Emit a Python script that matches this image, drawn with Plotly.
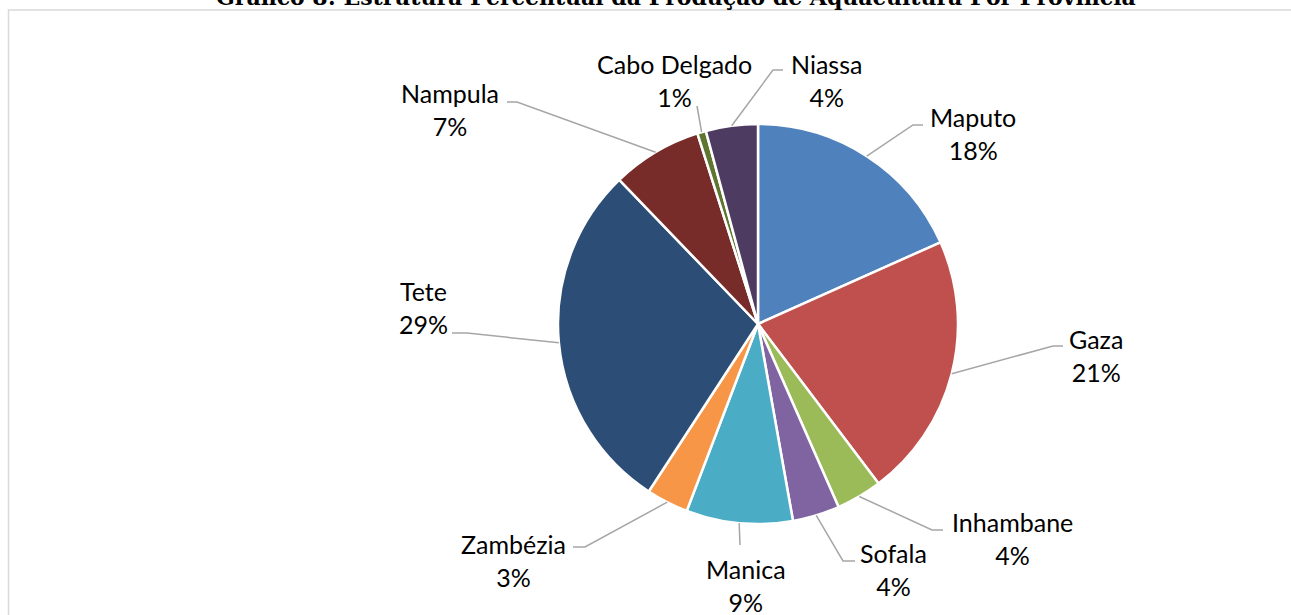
"""Gráfico 8: estrutura percentual da produção de aquacultura por província (pizza)."""

import math

import plotly.graph_objects as go

W, H = 1291, 615

provincias = ["Maputo", "Gaza", "Inhambane", "Sofala", "Manica",
              "Zambézia", "Tete", "Nampula", "Cabo Delgado", "Niassa"]
valores = [18.3, 21.4, 3.7, 3.8, 8.6, 3.4, 28.6, 7.3, 0.7, 4.2]
cores = ["#4F81BD", "#C0504D", "#9BBB59", "#8064A2", "#4BACC6",
         "#F79646", "#2C4D75", "#772C2A", "#5F7530", "#4D3B62"]

TITULO = "Gráfico 8: Estrutura Percentual da Produção de Aquacultura Por Província"

# geometria da pizza em píxeis
CX, CY, R = 758, 324, 200

# posição dos rótulos (centro do texto) e linhas de chamada: cotovelo e ponta
rotulos = {
    "Maputo":       dict(c=(973, 133), path=[(913, 125), (923, 125)]),
    "Gaza":         dict(c=(1096, 355), path=[(1053, 346), (1063, 346)]),
    "Inhambane":    dict(c=(1012, 538), path=[(932, 530), (943, 530)]),
    "Sofala":       dict(c=(893, 569), path=[(843, 561), (855, 561)]),
    "Manica":       dict(c=(746, 585), path=[(740, 545)]),
    "Zambézia":     dict(c=(513, 560), path=[(585, 547), (573, 547)]),
    "Tete":         dict(c=(423, 307), path=[(467, 333), (452, 333)]),
    "Nampula":      dict(c=(450, 110), path=[(517, 102), (507, 102)]),
    "Cabo Delgado": dict(c=(675, 80), path=[(697, 106)]),
    "Niassa":       dict(c=(826, 80), path=[(773, 70), (783, 70)]),
}


def px(x, y):
    return x / W, 1 - y / H


fig = go.Figure(
    go.Pie(
        labels=provincias,
        values=valores,
        marker=dict(colors=cores, line=dict(color="white", width=2.5)),
        sort=False,
        direction="clockwise",
        rotation=0,
        textinfo="none",
        showlegend=False,
        domain=dict(x=[(CX - R) / W, (CX + R) / W],
                    y=[1 - (CY + R) / H, 1 - (CY - R) / H]),
    )
)

total = sum(valores)
acum = 0.0
shapes = []
annotations = []
for nome, v in zip(provincias, valores):
    meio = (acum + v / 2) / total * 2 * math.pi
    acum += v
    # ponto na borda da fatia (ângulo a partir das 12h, sentido horário)
    ex, ey = CX + R * math.sin(meio), CY - R * math.cos(meio)
    info = rotulos[nome]
    pts = [(ex, ey)] + info["path"]
    d = "M " + " L ".join(f"{px(x, y)[0]} {px(x, y)[1]}" for x, y in pts)
    shapes.append(dict(type="path", xref="paper", yref="paper", path=d,
                       line=dict(color="#A6A6A6", width=1.5)))
    lx, ly = px(*info["c"])
    annotations.append(dict(
        x=lx, y=ly, xref="paper", yref="paper", showarrow=False,
        text=f"{nome}<br>{round(v / total * 100)}%",
        font=dict(family="Lato, Open Sans, sans-serif", size=25, color="#000000"),
        xanchor="center", yanchor="middle", align="center",
    ))

# moldura da área do gráfico
shapes.append(dict(type="rect", xref="paper", yref="paper",
                   x0=8.5 / W, x1=1.02, y0=-0.02, y1=1 - 10 / H,
                   line=dict(color="#D9D9D9", width=1.5)))

# título (cortado no topo, como na captura original)
annotations.append(dict(
    x=676 / W, y=1 + 3.5 / H, xref="paper", yref="paper", showarrow=False,
    text=f"<b>{TITULO}</b>",
    font=dict(family="DejaVu Serif, serif", size=22, color="#000000"),
    xanchor="center", yanchor="middle",
))

fig.update_layout(
    width=W, height=H,
    margin=dict(l=0, r=0, t=0, b=0),
    paper_bgcolor="white",
    plot_bgcolor="white",
    shapes=shapes,
    annotations=annotations,
)

fig.write_html("out.html", config={"displayModeBar": False},
               post_script="document.body.style.margin='0';")
